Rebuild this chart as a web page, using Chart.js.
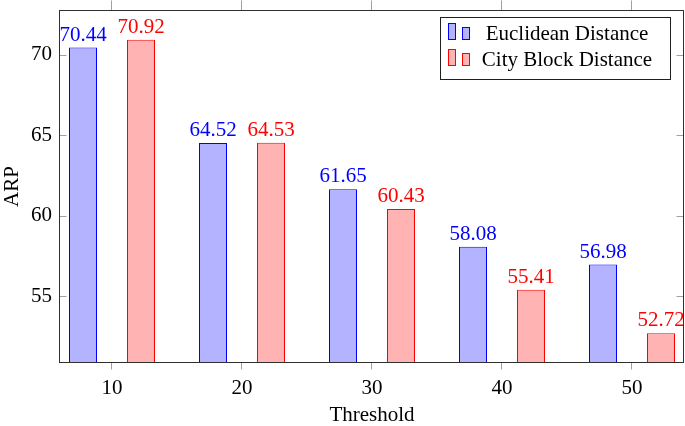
<!DOCTYPE html>
<html>
<head>
<meta charset="utf-8">
<script src="https://cdn.jsdelivr.net/npm/chart.js@4.4.1/dist/chart.umd.min.js"></script>
<style>
  html, body { margin: 0; padding: 0; background: #fff; }
</style>
</head>
<body>
<canvas id="myChart" width="685" height="426"></canvas>
<script>
const thresholds = [10, 20, 30, 40, 50];
const euclidean = [70.44, 64.52, 61.65, 58.08, 56.98];
const cityBlock = [70.92, 64.53, 60.43, 55.41, 52.72];
const yTicks = [55, 60, 65, 70];
const seriesNames = ['Euclidean Distance', 'City Block Distance'];

const FONT = '"Liberation Serif", "Times New Roman", serif';
const FS = 21;
Chart.defaults.font.family = FONT;
Chart.defaults.font.size = FS;
Chart.defaults.color = '#000';

// numbers above each bar
const valueLabels = {
  id: 'valueLabels',
  afterDatasetsDraw(chart) {
    const c = chart.ctx;
    c.save();
    c.font = FS + 'px ' + FONT;
    c.textAlign = 'center';
    c.textBaseline = 'alphabetic';
    chart.data.datasets.forEach((ds, i) => {
      c.fillStyle = ds.borderColor;
      chart.getDatasetMeta(i).data.forEach((bar, j) => {
        c.fillText(ds.data[j].y.toFixed(2), bar.x, bar.y - 7);
      });
    });
    c.restore();
  }
};

// pgfplots style box + tick marks
const frame = {
  id: 'frame',
  afterDatasetsDraw(chart) {
    const { ctx: c, chartArea: a, scales } = chart;
    const L = a.left - 0.5, R = a.right - 0.5, T = a.top, B = a.bottom;
    c.save();
    c.strokeStyle = '#a0a0a0';
    c.lineWidth = 1;
    c.beginPath();
    thresholds.forEach(v => {
      const px = Math.round(scales.x.getPixelForValue(v)) - 0.5;
      c.moveTo(px, T); c.lineTo(px, T - 10);
      c.moveTo(px, B); c.lineTo(px, B + 7);
    });
    yTicks.forEach(v => {
      const py = Math.round(scales.y.getPixelForValue(v)) + 0.5;
      c.moveTo(L, py); c.lineTo(L + 7, py);
      c.moveTo(R, py); c.lineTo(R - 7, py);
    });
    c.stroke();
    c.strokeStyle = '#303030';
    c.strokeRect(L, T, R - L, B - T);
    c.restore();
  }
};

// legend box in the top right corner
const boxLegend = {
  id: 'boxLegend',
  afterDraw(chart) {
    const c = chart.ctx;
    c.save();
    c.fillStyle = '#fff';
    c.fillRect(440.5, 17.5, 230, 62);
    c.strokeStyle = '#202020';
    c.lineWidth = 1;
    c.strokeRect(440.5, 17.5, 230, 62);
    c.font = FS + 'px ' + FONT;
    c.textAlign = 'center';
    c.textBaseline = 'alphabetic';
    chart.data.datasets.forEach((ds, i) => {
      const base = 40 + i * 26;
      c.fillStyle = ds.backgroundColor;
      c.strokeStyle = ds.borderColor;
      c.fillRect(448.5, base - 16.5, 7, 16);
      c.strokeRect(448.5, base - 16.5, 7, 16);
      c.fillRect(462.5, base - 12.5, 7, 12);
      c.strokeRect(462.5, base - 12.5, 7, 12);
      c.fillStyle = '#000';
      c.fillText(ds.label, 567, base);
    });
    c.restore();
  }
};

new Chart(document.getElementById('myChart'), {
  type: 'bar',
  data: {
    datasets: [{
      label: seriesNames[0],
      data: thresholds.map((t, i) => ({ x: t, y: euclidean[i] })),
      backgroundColor: 'rgb(179, 179, 255)',
      borderColor: 'rgb(0, 0, 255)',
      borderWidth: 1,
      borderSkipped: false,
      categoryPercentage: 116 / 130,
      barPercentage: 28 / 58
    }, {
      label: seriesNames[1],
      data: thresholds.map((t, i) => ({ x: t, y: cityBlock[i] })),
      backgroundColor: 'rgb(255, 179, 179)',
      borderColor: 'rgb(255, 0, 0)',
      borderWidth: 1,
      borderSkipped: false,
      categoryPercentage: 116 / 130,
      barPercentage: 28 / 58
    }]
  },
  options: {
    responsive: false,
    animation: false,
    layout: { padding: { top: 10.5, right: 1, left: 0, bottom: 0 } },
    plugins: { legend: { display: false }, tooltip: { enabled: false } },
    scales: {
      x: {
        type: 'linear',
        offset: false,
        min: 6,
        max: 54,
        afterBuildTicks: s => { s.ticks = thresholds.map(v => ({ value: v })); },
        afterFit: s => { s.height = 63.5; s.paddingLeft = 0; s.paddingRight = 0; },
        grid: { display: false, drawTicks: false },
        border: { display: false },
        ticks: { padding: 13 },
        title: { display: true, text: 'Threshold', padding: { top: 0, bottom: -2 } }
      },
      y: {
        min: 50.9,
        max: 72.74,
        afterBuildTicks: s => { s.ticks = yTicks.map(v => ({ value: v })); },
        afterFit: s => { s.width = 60; s.paddingTop = 0; s.paddingBottom = 0; },
        grid: { display: false, drawTicks: false },
        border: { display: false },
        ticks: { padding: 8 },
        title: { display: true, text: 'ARP', padding: 0 }
      }
    }
  },
  plugins: [valueLabels, frame, boxLegend]
});
</script>
</body>
</html>
